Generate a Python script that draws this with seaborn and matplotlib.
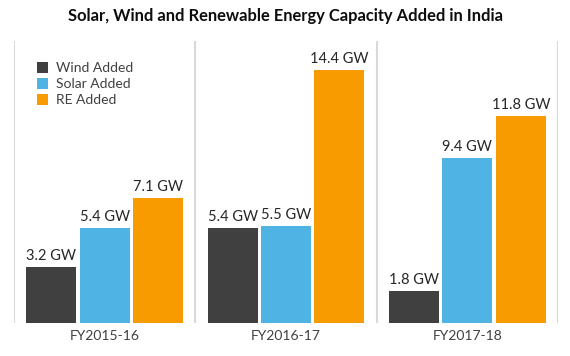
import matplotlib
matplotlib.use("Agg")
import matplotlib.pyplot as plt
import seaborn as sns
import pandas as pd

categories = ["FY2015-16", "FY2016-17", "FY2017-18"]
series = ["Wind Added", "Solar Added", "RE Added"]
wind = [3.2, 5.4, 1.8]
solar = [5.4, 5.5, 9.4]
re_added = [7.1, 14.4, 11.8]
colors = ["#404040", "#4fb3e3", "#f79b00"]

rows = []
for name, vals in zip(series, [wind, solar, re_added]):
    for c, v in zip(categories, vals):
        rows.append({"Year": c, "Series": name, "GW": v})
df = pd.DataFrame(rows)

sns.set_theme(style="white")
plt.rcParams["font.family"] = ["Lato", "DejaVu Sans"]

fig = plt.figure(figsize=(5.7, 3.56), dpi=100)
ax = fig.add_axes([14/570, 1-323/356, (558-14)/570, (323-41)/356])

sns.barplot(data=df, x="Year", y="GW", hue="Series", order=categories,
            hue_order=series, palette=colors, width=0.884, gap=0.065,
            linewidth=0, saturation=1, ax=ax, legend=True)

for cont in ax.containers:
    ax.bar_label(cont, labels=[f"{v:.1f} GW" for v in cont.datavalues],
                 padding=3, fontsize=10.5, color="#262626")

for xv in [-0.5, 0.5, 1.5, 2.5]:
    ax.axvline(xv, color="#d9d9d9", lw=1.5, zorder=0)

ax.set_xlim(-0.5, 2.5)
ax.set_ylim(0, 16.05)
for s in ax.spines.values():
    s.set_visible(False)
ax.set_yticks([])
ax.set_xlabel("")
ax.set_ylabel("")
ax.tick_params(axis="x", length=0, pad=5, labelsize=10, labelcolor="#404040")

leg = ax.legend(loc="upper left", bbox_to_anchor=(37/570, 1-62/356),
                bbox_transform=fig.transFigure, frameon=False, fontsize=10,
                handlelength=0.8, handleheight=0.8, handletextpad=0.6,
                labelspacing=0.28, borderaxespad=0, borderpad=0)
for t in leg.get_texts():
    t.set_color("#404040")

fig.text(0.5, 1-16/356, "Solar, Wind and Renewable Energy Capacity Added in India",
         ha="center", va="center", fontsize=11.9, fontweight="bold", color="#0d0d0d")

fig.savefig("out.png", dpi=100)
